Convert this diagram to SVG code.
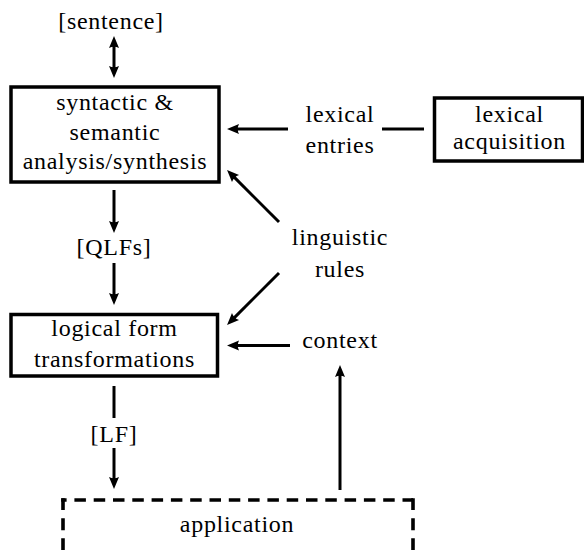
<svg xmlns="http://www.w3.org/2000/svg" width="584" height="550" viewBox="0 0 584 550">
  <style>
    text { font-family: 'Liberation Serif', 'DejaVu Serif', serif; font-size: 24px; letter-spacing: 0.7px; fill: #000; text-anchor: middle; }
    .box { fill: none; stroke: #000; stroke-width: 3.5; }
    .conn { fill: none; stroke: #000; stroke-width: 3; }
    .dash { fill: none; stroke: #000; stroke-width: 3.6; }
  </style>
  <defs>
    <marker id="ah" markerUnits="userSpaceOnUse" markerWidth="16" markerHeight="14" viewBox="-2 -7 16 14" refX="3" refY="0" orient="auto-start-reverse">
      <path d="M12,0 L0,-5 Q2.5,0 0,5 Z" fill="#000"/>
    </marker>
  </defs>

  <!-- free-standing labels -->
  <g id="sentence"><text x="111" y="29">[sentence]</text></g>
  <g id="qlfs"><text x="114" y="255">[QLFs]</text></g>
  <g id="lf"><text x="114" y="442">[LF]</text></g>
  <g id="lexical-entries">
    <text x="340" y="122">lexical</text>
    <text x="340" y="153">entries</text>
  </g>
  <g id="linguistic-rules">
    <text x="340" y="245">linguistic</text>
    <text x="340" y="277">rules</text>
  </g>
  <g id="context"><text x="340" y="348">context</text></g>

  <!-- processing boxes -->
  <g id="analysis">
    <rect class="box" x="11" y="87" width="208" height="95"/>
    <text x="115" y="110">syntactic &amp;</text>
    <text x="115" y="140">semantic</text>
    <text x="115" y="169">analysis/synthesis</text>
  </g>
  <g id="transformations">
    <rect class="box" x="11" y="314.5" width="206.5" height="61.5"/>
    <text x="114.5" y="336">logical form</text>
    <text x="114.5" y="367">transformations</text>
  </g>
  <g id="acquisition">
    <rect class="box" x="434.5" y="98" width="148" height="63"/>
    <text x="509.5" y="122">lexical</text>
    <text x="509.5" y="149">acquisition</text>
  </g>
  <g id="application">
    <!-- dashed outline: left, top and right sides, each starting with a dash at the corner -->
    <path class="dash" d="M63,498.2 V560" stroke-dasharray="11.8 8.2 12 8 12 8"/>
    <path class="dash" d="M61.2,500 H413" stroke-dasharray="11.5 7.8" stroke-dashoffset="6.1"/>
    <path class="dash" d="M413,498.2 V560" stroke-dasharray="11.8 8.2 12 8 12 8"/>
    <text x="237" y="532">application</text>
  </g>

  <!-- connectors -->
  <g id="connectors">
    <path class="conn" d="M114,45 V69" marker-start="url(#ah)" marker-end="url(#ah)"/>
    <path class="conn" d="M114,190 V224" marker-end="url(#ah)"/>
    <path class="conn" d="M114,263 V296" marker-end="url(#ah)"/>
    <path class="conn" d="M114,386 V418"/>
    <path class="conn" d="M114,448 V480" marker-end="url(#ah)"/>
    <path class="conn" d="M340,490 V374" marker-end="url(#ah)"/>
    <path class="conn" d="M290,345.5 H236" marker-end="url(#ah)"/>
    <path class="conn" d="M279,222 L233.4,176.4" marker-end="url(#ah)"/>
    <path class="conn" d="M279,273 L233.4,318.6" marker-end="url(#ah)"/>
    <path class="conn" d="M288,129 H236" marker-end="url(#ah)"/>
    <path class="conn" d="M382,129 H424"/>
  </g>
</svg>
